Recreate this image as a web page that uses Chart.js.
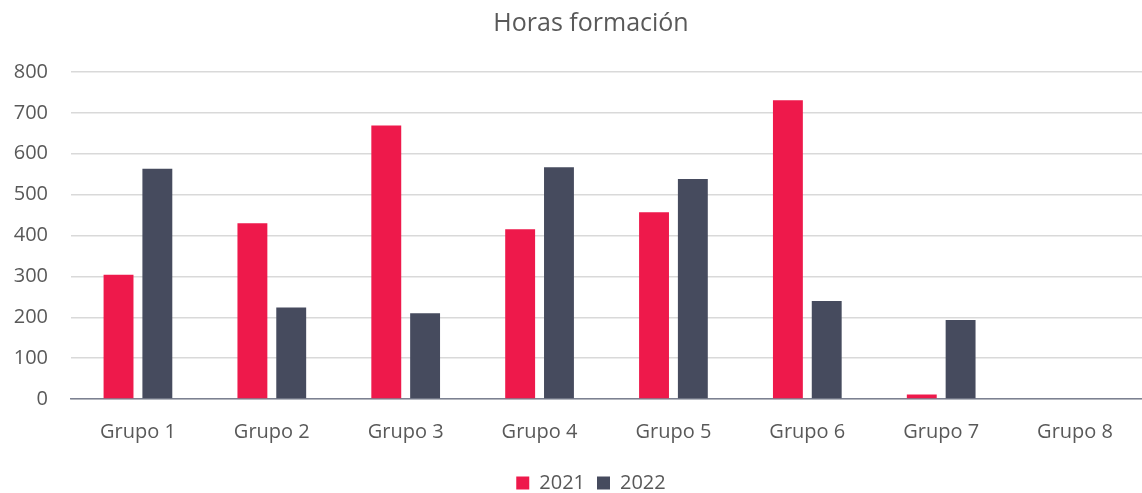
<!DOCTYPE html>
<html>
<head>
<meta charset="utf-8">
<script src="https://cdn.jsdelivr.net/npm/chart.js@4/dist/chart.umd.min.js"></script>
<style>
  html, body { margin: 0; padding: 0; background: #ffffff; overflow: hidden; }
  #wrap { position: absolute; left: 0; top: 0; width: 1184px; height: 503px; }
</style>
</head>
<body>
<div id="wrap"><canvas id="c" width="1184" height="503"></canvas></div>
<script>
const categories = ["Grupo 1", "Grupo 2", "Grupo 3", "Grupo 4", "Grupo 5", "Grupo 6", "Grupo 7", "Grupo 8"];
const series2021 = [304, 430, 669, 415, 457, 731, 11, 0];
const series2022 = [563, 224, 210, 567, 538, 240, 193, 0];
const seriesLabels = ["2021", "2022"];
const yTicks = { min: 0, max: 800, step: 100 };
const chartTitle = "Horas formación";

const FONT = "'Open Sans', 'DejaVu Sans', sans-serif";
const TEXT = "#595959";
const TICK_SIZE = 20;

// layout geometry (pixels)
const LEFT_PAD = 40;       // layout padding (centres title & legend like the reference)
const PLOT_LEFT = 71;      // x of the value axis
const LABEL_RIGHT = 48;    // right edge of the y tick labels

// measure widest y label so the mirrored labels end at LABEL_RIGHT
const mctx = document.createElement("canvas").getContext("2d");
mctx.font = TICK_SIZE + "px " + FONT;
let widest = 0;
for (let v = yTicks.min; v <= yTicks.max; v += yTicks.step) {
  widest = Math.max(widest, mctx.measureText(String(v)).width);
}

new Chart(document.getElementById("c"), {
  type: "bar",
  data: {
    labels: categories,
    datasets: [
      { label: seriesLabels[0], data: series2021, backgroundColor: "#EE194B", borderWidth: 0 },
      { label: seriesLabels[1], data: series2022, backgroundColor: "#464B5E", borderWidth: 0 }
    ]
  },
  options: {
    responsive: false,
    animation: false,
    devicePixelRatio: 1,
    layout: { padding: { left: LEFT_PAD, right: 42, top: 0, bottom: 0 } },
    datasets: { bar: { categoryPercentage: 0.58, barPercentage: 0.77 } },
    plugins: {
      title: {
        display: true,
        text: chartTitle,
        color: TEXT,
        font: { family: FONT, size: 25, weight: "normal" },
        padding: { top: 9, bottom: 33 }
      },
      legend: {
        display: true,
        position: "bottom",
        labels: {
          color: TEXT,
          font: { family: FONT, size: 20 },
          boxWidth: 13,
          boxHeight: 13,
          padding: 12
        }
      },
      tooltip: { enabled: false }
    },
    scales: {
      x: {
        grid: { display: false, drawTicks: false },
        border: { display: true, color: "#7c8191", width: 1.5 },
        ticks: { color: TEXT, font: { family: FONT, size: TICK_SIZE }, padding: 21, maxRotation: 0 },
        afterFit: (scale) => { scale.height = 62; }
      },
      y: {
        min: yTicks.min,
        max: yTicks.max,
        grid: { color: "#d9d9d9", lineWidth: 1.5, drawTicks: false },
        border: { display: false },
        ticks: {
          stepSize: yTicks.step,
          color: TEXT,
          font: { family: FONT, size: TICK_SIZE },
          mirror: true,
          crossAlign: "far",
          padding: LABEL_RIGHT - PLOT_LEFT - widest
        },
        afterFit: (scale) => { scale.width = PLOT_LEFT - LEFT_PAD; }
      }
    }
  }
});
</script>
</body>
</html>
